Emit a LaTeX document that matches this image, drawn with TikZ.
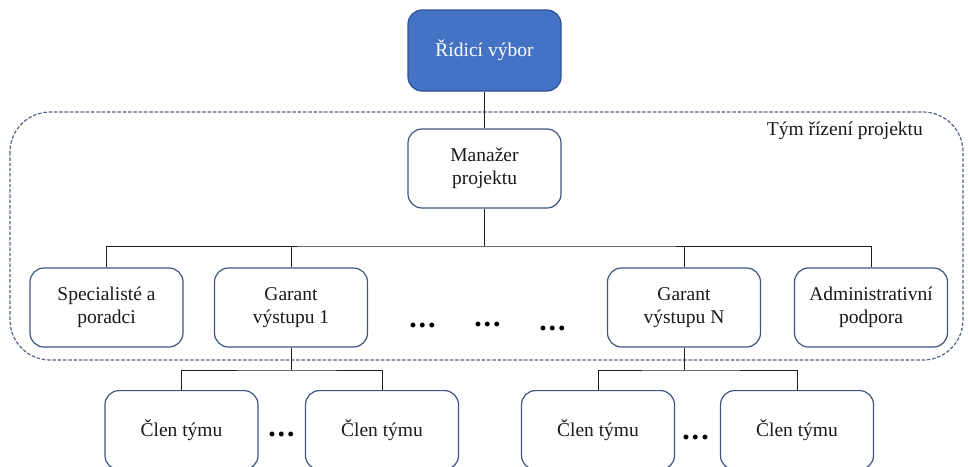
\documentclass[tikz,border=0pt]{standalone}
\usepackage{fontspec}
\setmainfont{Liberation Serif}
\definecolor{boxline}{RGB}{62,85,125}
\definecolor{topfill}{RGB}{68,114,196}
\definecolor{topline}{RGB}{47,82,143}
\definecolor{teamline}{RGB}{84,100,132}
\definecolor{wire}{RGB}{30,30,30}
\newcommand{\boxfont}{\fontsize{19.5}{22.5}\selectfont}
\begin{document}
\begin{tikzpicture}[x=1pt,y=-1pt,
  box/.style={draw=boxline, line width=1.2pt, rounded corners=14pt,
    minimum width=153pt, minimum height=79pt, align=center,
    fill=white, inner sep=0pt, text=black!90, font=\boxfont},
  topbox/.style={box, fill=topfill, draw=topline, text=white, minimum height=81pt},
  wirestyle/.style={draw=wire, line width=1pt},
  teambox/.style={draw=teamline, line width=1.2pt, dash pattern=on 3.5pt off 1.8pt, rounded corners=40pt},
  dots/.style={inner sep=0pt, font=\fontsize{30}{30}\selectfont\bfseries}]
\useasboundingbox (0,0) rectangle (968,466);
\clip (0,0) rectangle (968,466);

% project management team frame
\draw[teambox] (10,112) rectangle (963,360);
\node[anchor=base east, inner sep=0pt, font=\boxfont, text=black!90] (teamlabel) at (923,135) {Tým řízení projektu};

% boxes
\node[topbox] (board) at (484.5,50.5) {Řídicí výbor};
\node[box] (manager) at (484.5,168.5) {Manažer\\projektu};
\node[box] (spec) at (106.5,307.5) {Specialisté a\\poradci};
\node[box] (g1) at (291,307.5) {Garant\\výstupu 1};
\node[box] (gN) at (684,307.5) {Garant\\výstupu N};
\node[box] (adm) at (871,307.5) {Administrativní\\podpora};
\node[box, anchor=north] (m1) at (181.5,390) {Člen týmu};
\node[box, anchor=north] (m2) at (382,390) {Člen týmu};
\node[box, anchor=north] (m3) at (598,390) {Člen týmu};
\node[box, anchor=north] (m4) at (797,390) {Člen týmu};

% coordinates of the horizontal buses
\coordinate (busA) at (484.5,246);
\coordinate (busB) at (291,370);
\coordinate (busC) at (684,370);

% connectors
\draw[wirestyle] (board.south) -- (manager.north);
\draw[wirestyle] (manager.south) -- (busA);
\draw[wirestyle] (spec.north) |- (busA) -| (adm.north);
\draw[wirestyle] (g1.north) -- (g1.north |- busA);
\draw[wirestyle] (gN.north) -- (gN.north |- busA);
\draw[wirestyle] (g1.south) -- (busB);
\draw[wirestyle] (m1.north) |- (busB) -| (m2.north);
\draw[wirestyle] (gN.south) -- (busC);
\draw[wirestyle] (m3.north) |- (busC) -| (m4.north);

% ellipses
\node[dots] (d1) at (422.5,325) {.\kern2pt.\kern2pt.};
\node[dots] (d2) at (487.5,324) {.\kern2pt.\kern2pt.};
\node[dots] (d3) at (552.5,328) {.\kern2pt.\kern2pt.};
\node[dots] (d4) at (281.5,434) {.\kern2pt.\kern2pt.};
\node[dots] (d5) at (695.5,437) {.\kern2pt.\kern2pt.};
\end{tikzpicture}
\end{document}
